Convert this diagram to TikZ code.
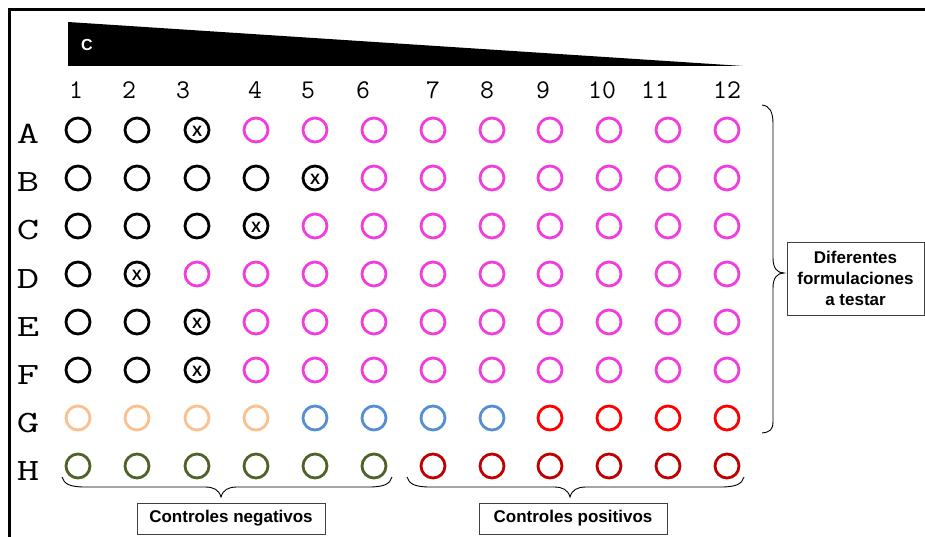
\documentclass[tikz,border=0pt]{standalone}
\usepackage{fontspec}
\setsansfont{Liberation Sans}
\definecolor{wmag}{HTML}{F23DDE}
\definecolor{wpeach}{HTML}{FAC090}
\definecolor{wblue}{HTML}{558ED5}
\definecolor{wred}{HTML}{FF0000}
\definecolor{wdred}{HTML}{C00000}
\definecolor{wgreen}{HTML}{4F6228}
\definecolor{boxline}{HTML}{404040}
\tikzset{
  well/.style={circle, draw, line width=2.8pt, minimum size=24pt, inner sep=0pt},
  wk/.style={draw=black},
  wkx/.style={draw=black, label={[font=\sffamily\bfseries\fontsize{15}{15}\selectfont, inner sep=0pt, yshift=-1pt]center:X}},
  wm/.style={draw=wmag},
  wp/.style={draw=wpeach},
  wb/.style={draw=wblue},
  wr/.style={draw=wred},
  wd/.style={draw=wdred},
  wg/.style={draw=wgreen},
  rowlab/.style={font=\ttfamily\fontsize{31}{31}\selectfont, inner sep=0pt, anchor=base},
  collab/.style={font=\ttfamily\fontsize{27}{27}\selectfont, inner sep=0pt, anchor=base},
  infobox/.style={draw=boxline, line width=1pt, fill=white, inner sep=0pt, align=center,
    font=\sffamily\bfseries\fontsize{17}{21}\selectfont},
  bracepath/.style={draw=black, line width=0.9pt}
}
\begin{document}
\begin{tikzpicture}[x=1pt,y=-1pt]
\useasboundingbox (0,0) rectangle (925,537);
% frame
\draw[line width=3pt] (9,545) -- (9,10) -- (935,10);
% concentration wedge
\fill[black] (68,22) -- (743,66) -- (68,66) -- cycle;
\node[text=white, font=\sffamily\bfseries\fontsize{16}{16}\selectfont, inner sep=0pt] (clabel) at (87,45) {C};
% column numbers
\foreach \n/\x in {1/76,2/129,3/183,4/255,5/308,6/363,7/433,8/487,9/543,10/602,11/655,12/727}
  \node[collab] (c\n) at (\x,99) {\n};
% row letters
\foreach \row [count=\i from 0] in {A,B,C,D,E,F,G,H}
  \node[rowlab] (r\row) at (28,{144+48*\i}) {\scalebox{1.4}[1]{\row}};
% wells
\foreach \row/\y/\cols in {
  A/130/{wk,wk,wkx,wm,wm,wm,wm,wm,wm,wm,wm,wm},
  B/178/{wk,wk,wk,wk,wkx,wm,wm,wm,wm,wm,wm,wm},
  C/226/{wk,wk,wk,wkx,wm,wm,wm,wm,wm,wm,wm,wm},
  D/274/{wk,wkx,wm,wm,wm,wm,wm,wm,wm,wm,wm,wm},
  E/322/{wk,wk,wkx,wm,wm,wm,wm,wm,wm,wm,wm,wm},
  F/370/{wk,wk,wkx,wm,wm,wm,wm,wm,wm,wm,wm,wm},
  G/418/{wp,wp,wp,wp,wb,wb,wb,wb,wr,wr,wr,wr},
  H/466/{wg,wg,wg,wg,wg,wg,wd,wd,wd,wd,wd,wd}}
{
  \foreach \c [count=\j] in \cols {
    \pgfmathsetmacro\xx{{78,137,197,256,315,374,433,492,550,609,668,727}[\j-1]}
    \node[well, \c] (w\row\j) at (\xx,\y) {};
  }
}
% right brace
\path[bracepath] (762,105) .. controls (770,106) and (773,112) .. (773,124) -- (773,258)
  .. controls (773,268) and (777,273) .. (784,273)
  .. controls (777,273) and (773,278) .. (773,288) -- (773,421)
  .. controls (773,430) and (770,432) .. (762,433);
% bottom braces
\path[bracepath] (62,477) .. controls (64,484) and (70,487) .. (85,487) -- (205,487)
  .. controls (214,487) and (219,490) .. (221,497)
  .. controls (223,490) and (228,487) .. (237,487) -- (369,487)
  .. controls (384,487) and (390,484) .. (392,477);
\path[bracepath] (407,477) .. controls (409,484) and (415,487) .. (430,487) -- (554,487)
  .. controls (563,487) and (568,490) .. (570,497)
  .. controls (572,490) and (577,487) .. (586,487) -- (721,487)
  .. controls (736,487) and (742,484) .. (744,477);
% boxes
\node[infobox, minimum width=137pt, minimum height=73pt] (dif) at (855.5,278.5)
  {Diferentes\\formulaciones\\a testar};
\node[infobox, minimum width=188pt, minimum height=31pt] (neg) at (231,518.5) {Controles negativos};
\node[infobox, minimum width=188pt, minimum height=31pt] (pos) at (573,518.5) {Controles positivos};
\end{tikzpicture}
\end{document}
